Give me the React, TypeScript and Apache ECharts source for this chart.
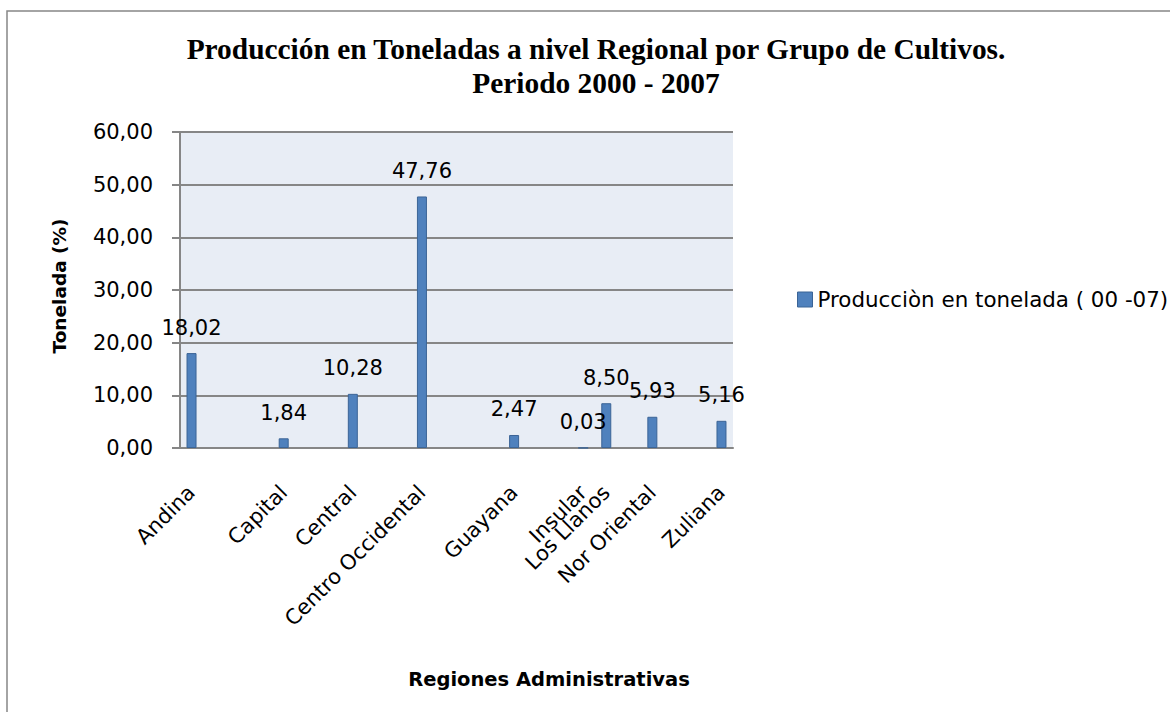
import { useEffect, useRef } from "react";
import * as echarts from "echarts";

const regions = [
  "Andina",
  "Capital",
  "Central",
  "Centro Occidental",
  "Guayana",
  "Insular",
  "Los Llanos",
  "Nor Oriental",
  "Zuliana",
];
const production = [18.02, 1.84, 10.28, 47.76, 2.47, 0.03, 8.5, 5.93, 5.16];
// category slot of each region on the (date-like) category axis of the original
const regionSlots = [0, 4, 7, 10, 14, 17, 18, 20, 23];
const slotCount = 24;
const yMin = 0;
const yMax = 60;
const yStep = 10;
const seriesName = "Producciòn en tonelada ( 00 -07)";
const chartTitle =
  "Producción en Toneladas a nivel Regional por Grupo de Cultivos.\nPeriodo 2000 - 2007";
const xTitle = "Regiones Administrativas";
const yTitle = "Tonelada (%)";

const SANS = "'DejaVu Sans', sans-serif";
const fmt = (v: number) => v.toFixed(2).replace(".", ",");

export default function App() {
  const ref = useRef<HTMLDivElement>(null);
  useEffect(() => {
    if (!ref.current) return;
    const chart = echarts.init(ref.current, null, { renderer: "svg" });
    const categories = Array.from({ length: slotCount }, (_, i) => {
      const k = regionSlots.indexOf(i);
      return k >= 0 ? regions[k] : "";
    });
    const data = regionSlots.map((s, i) => [s, production[i]]);
    chart.setOption({
      animation: false,
      backgroundColor: "#ffffff",
      title: {
        text: chartTitle,
        left: 591,
        top: 27,
        textAlign: "center",
        textStyle: {
          fontFamily: "'Liberation Serif', serif",
          fontWeight: "bold",
          fontSize: 29.4,
          lineHeight: 34,
          color: "#000",
        },
      },
      legend: {
        left: 797,
        top: 289,
        padding: 0,
        itemWidth: 15,
        itemHeight: 15,
        icon: "rect",
        textStyle: { fontFamily: SANS, fontSize: 21.4, color: "#000" },
        data: [{ name: seriesName, itemStyle: { color: "#4f81bd", borderColor: "#3b6496", borderWidth: 1 } }],
      },
      graphic: [
        {
          type: "rect",
          silent: true,
          shape: { x: 7, y: 11, width: 1300, height: 900 },
          style: { fill: "none", stroke: "#878787", lineWidth: 1.5 },
        },
      ],
      grid: {
        left: 180,
        top: 132,
        right: 437,
        bottom: 264,
        show: true,
        backgroundColor: "#e8edf5",
        borderWidth: 0,
        outerBoundsMode: "none",
      },
      xAxis: {
        type: "category",
        data: categories,
        boundaryGap: true,
        axisLine: { show: true, lineStyle: { color: "#868686", width: 2 } },
        axisTick: { show: false },
        axisLabel: {
          interval: 0,
          rotate: 45,
          margin: 41,
          fontFamily: SANS,
          fontSize: 21,
          color: "#000",
        },
        name: xTitle,
        nameLocation: "middle",
        nameGap: 221,
        nameTextStyle: {
          fontFamily: SANS,
          fontWeight: "bold",
          fontSize: 19.5,
          color: "#000",
          padding: [0, 0, 0, 185],
        },
      },
      yAxis: {
        type: "value",
        min: yMin,
        max: yMax,
        interval: yStep,
        axisLine: { show: true, lineStyle: { color: "#868686", width: 2 } },
        axisTick: { show: true, length: 8, lineStyle: { color: "#868686", width: 2 } },
        axisLabel: {
          margin: 27,
          fontFamily: SANS,
          fontSize: 21,
          color: "#000",
          formatter: (v: number) => fmt(v),
        },
        splitLine: { show: true, lineStyle: { color: "#868686", width: 2 } },
        name: yTitle,
        nameLocation: "middle",
        nameGap: 111,
        nameTextStyle: {
          fontFamily: SANS,
          fontWeight: "bold",
          fontSize: 18.5,
          color: "#000",
          padding: [0, 0, 0, 8],
        },
      },
      series: [
        {
          type: "bar",
          name: seriesName,
          data,
          barWidth: 10,
          itemStyle: { color: "#4f81bd", borderColor: "#3b6496", borderWidth: 1 },
          label: {
            show: true,
            position: "top",
            distance: 15,
            fontFamily: SANS,
            fontSize: 21,
            color: "#000",
            formatter: (p: any) => fmt(p.value[1]),
          },
        },
      ],
    });
    return () => chart.dispose();
  }, []);
  return (
    <div
      ref={ref}
      style={{ position: "fixed", left: 0, top: 0, width: 1170, height: 712 }}
    />
  );
}
